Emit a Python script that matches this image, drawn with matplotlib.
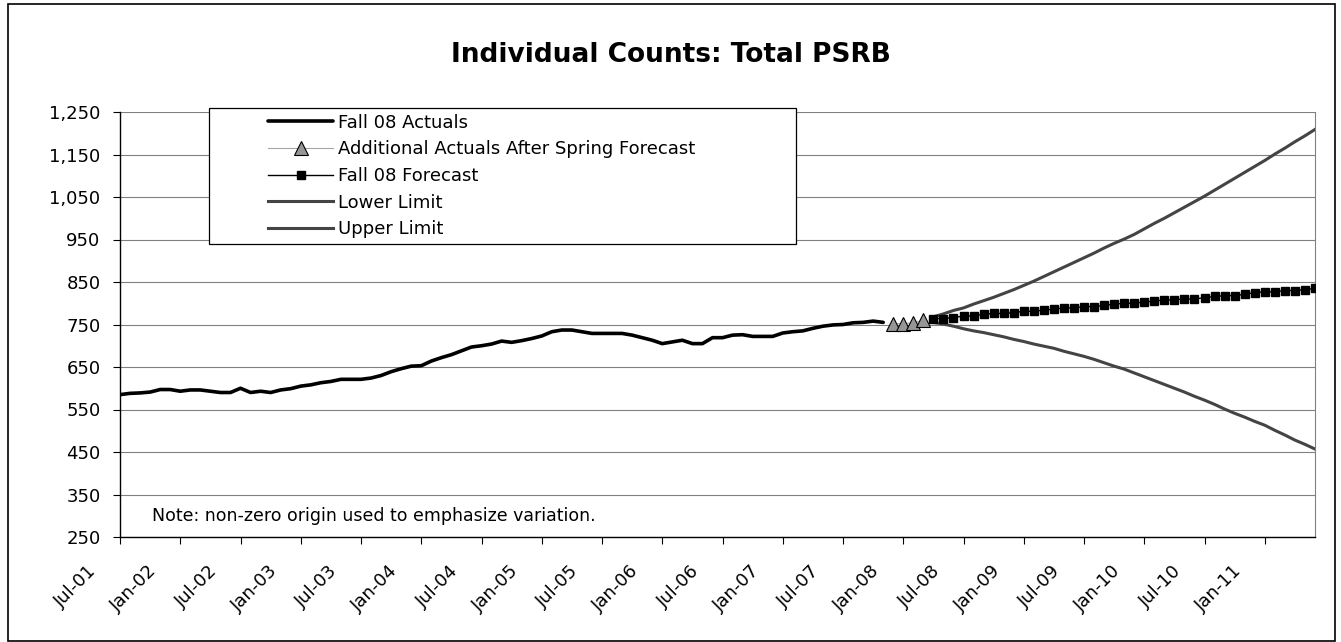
import matplotlib
matplotlib.use("Agg")
import matplotlib.pyplot as plt
import matplotlib.ticker as mticker
from matplotlib.lines import Line2D
from matplotlib.legend_handler import HandlerLine2D
from matplotlib.patches import Rectangle
from matplotlib.transforms import ScaledTranslation
import numpy as np

# ---- data (monthly, Jul-01 .. Jun-11) ----
n_months = 120

# Fall 08 actuals, Jul-01 .. Nov-07
actuals = [585, 588, 589, 591, 597, 597, 593, 596, 596, 593, 590, 590,
           600, 590, 593, 590, 596, 599, 605, 608, 613, 616, 621, 621,
           621, 624, 630, 639, 646, 652, 653, 664, 672, 679, 688, 697,
           700, 704, 711, 708, 712, 717, 723, 733, 737, 737, 733, 729,
           729, 729, 729, 725, 719, 713, 705, 709, 713, 705, 705, 719,
           719, 725, 726, 722, 722, 722, 730, 733, 735, 741, 746, 749,
           750, 754, 755, 758, 755]
actuals_start = 0

# Additional actuals after spring forecast, Dec-07 .. Mar-08
additional = [752, 752, 754, 760]
additional_start = 77

# Fall 08 forecast with limits, Apr-08 .. Jun-11
forecast = [764, 764, 766, 770, 770, 774, 776, 776, 778, 781, 781, 784,
            786, 789, 789, 792, 792, 795, 798, 800, 800, 803, 805, 808,
            808, 810, 810, 813, 816, 818, 818, 821, 825, 827, 827, 830,
            830, 832, 835]
lower_limit = [755, 751, 746, 740, 735, 731, 726, 721, 715, 710, 704, 699,
               694, 687, 681, 675, 668, 660, 652, 645, 636, 627, 618, 609,
               600, 591, 581, 572, 562, 551, 541, 532, 522, 513, 501, 490,
               478, 468, 457]
upper_limit = [768, 775, 783, 789, 798, 806, 814, 823, 832, 842, 852, 863,
               874, 885, 896, 907, 918, 930, 941, 951, 962, 975, 988, 1000,
               1013, 1026, 1039, 1052, 1066, 1080, 1094, 1108, 1122, 1136,
               1151, 1165, 1180, 1194, 1209]
forecast_start = 81

tick_labels = ["Jul-01", "Jan-02", "Jul-02", "Jan-03", "Jul-03", "Jan-04",
               "Jul-04", "Jan-05", "Jul-05", "Jan-06", "Jul-06", "Jan-07",
               "Jul-07", "Jan-08", "Jul-08", "Jan-09", "Jul-09", "Jan-10",
               "Jul-10", "Jan-11"]
tick_step = 6

y_ticks = list(range(250, 1251, 100))

# ---- figure layout (pixel based) ----
W, H = 1341, 642
DPI = 100
fig = plt.figure(figsize=(W / DPI, H / DPI), dpi=DPI)
fig.patch.set_facecolor("white")

ax_l, ax_r, ax_t, ax_b = 120, 1315, 112, 537
ax = fig.add_axes([ax_l / W, 1 - ax_b / H, (ax_r - ax_l) / W, (ax_b - ax_t) / H])


def span(start, values):
    return np.arange(start, start + len(values))


x_act = span(actuals_start, actuals)
x_add = span(additional_start, additional)
x_fc = span(forecast_start, forecast)

limit_color = "#444444"

l_act, = ax.plot(x_act, actuals, color="black", lw=2.6,
                 solid_joinstyle="round", solid_capstyle="round", zorder=4,
                 label="Fall 08 Actuals")
l_add, = ax.plot(x_add, additional, color="#a6a6a6", lw=0.8, marker="^",
                 ms=10.5, mfc="#969696", mec="black", mew=0.8, zorder=6,
                 label="Additional Actuals After Spring Forecast")
l_fc, = ax.plot(x_fc, forecast, color="black", lw=1.0, marker="s", ms=5.5,
                mfc="black", mec="black", zorder=5, label="Fall 08 Forecast")
l_lo, = ax.plot(x_fc, lower_limit, color=limit_color, lw=2.2, zorder=3,
                label="Lower Limit")
l_up, = ax.plot(x_fc, upper_limit, color=limit_color, lw=2.2, zorder=3,
                label="Upper Limit")

ax.set_xlim(0, n_months - 1)
ax.set_ylim(y_ticks[0], y_ticks[-1])

ax.set_yticks(y_ticks)
ax.yaxis.set_major_formatter(mticker.StrMethodFormatter("{x:,.0f}"))
ax.yaxis.grid(True, color="#808080", lw=0.8)
ax.set_axisbelow(True)

ax.set_xticks(np.arange(0, len(tick_labels) * tick_step, tick_step))
ax.set_xticklabels(tick_labels)

ax.spines["top"].set_visible(False)
ax.spines["right"].set_color("#808080")
ax.spines["right"].set_linewidth(0.8)
ax.spines["left"].set_color("black")
ax.spines["bottom"].set_color("black")
ax.spines["left"].set_linewidth(1.0)
ax.spines["bottom"].set_linewidth(1.0)

ax.tick_params(axis="y", direction="out", length=5, width=0.8,
               labelsize=13, pad=9)
ax.tick_params(axis="x", direction="out", length=5, width=0.8,
               labelsize=13, pad=13, labelrotation=45)
shift = ScaledTranslation(-20 / DPI, 0, fig.dpi_scale_trans)
for lbl in ax.get_xticklabels():
    lbl.set_ha("right")
    lbl.set_va("top")
    lbl.set_transform(lbl.get_transform() + shift)

# ---- legend ----
fs = 13
fs_px = fs * DPI / 72
bpad = 0.32
leg_l, leg_r, leg_t = 209, 796, 108
leg = ax.legend(
    handles=[l_act, l_add, l_fc, l_lo, l_up],
    loc="upper left",
    bbox_to_anchor=(leg_l / W, 1 - leg_t / H, (leg_r - leg_l) / W, 0),
    bbox_transform=fig.transFigure,
    mode="expand",
    borderaxespad=0,
    borderpad=bpad,
    labelspacing=0.48,
    handlelength=(333 - leg_l - bpad * fs_px) / fs_px,
    handletextpad=0.25,
    numpoints=1,
    fontsize=fs,
    fancybox=False,
    framealpha=1,
    edgecolor="black",
    handler_map={Line2D: HandlerLine2D(xpad=(268 - leg_l - bpad * fs_px) / fs_px)},
)
leg.get_frame().set_linewidth(0.9)
leg.set_zorder(10)

# ---- title, note, chart border ----
fig.text(671 / W, 1 - 55 / H, "Individual Counts: Total PSRB",
         ha="center", va="center", fontsize=19, fontweight="bold")
fig.text(152 / W, 1 - 516 / H,
         "Note: non-zero origin used to emphasize variation.",
         ha="left", va="center", fontsize=12.5)

fig.add_artist(Rectangle((7.5 / W, 1 - 641 / H), (1334.5 - 7.5) / W,
                         (641 - 4) / H, transform=fig.transFigure,
                         fill=False, ec="black", lw=1.2))

fig.savefig("out.png", dpi=DPI)
